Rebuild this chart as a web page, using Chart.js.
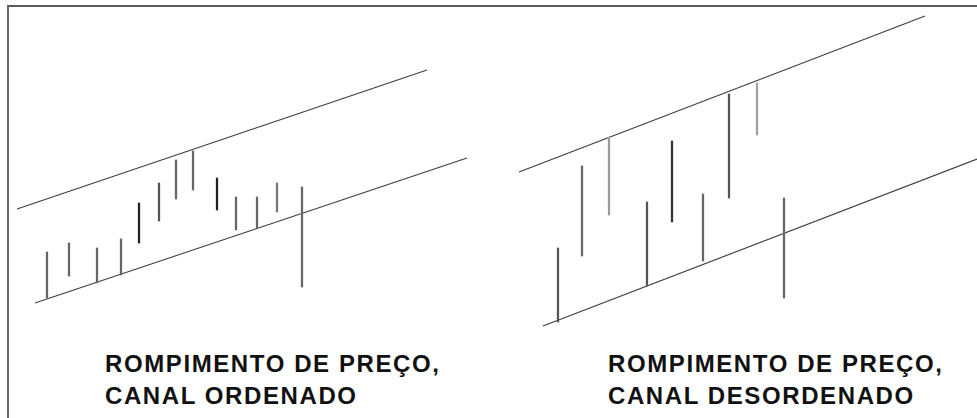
<!DOCTYPE html>
<html>
<head>
<meta charset="utf-8">
<script src="https://cdn.jsdelivr.net/npm/chart.js@4/dist/chart.umd.min.js"></script>
<style>
  body { margin: 0; background: #fff; width: 977px; height: 418px; overflow: hidden; position: relative; }
  #frame { position: absolute; left: 7px; top: 5px; width: 980px; height: 420px;
           border-top: 2px solid #5a5a5a; border-left: 2px solid #6a6a6a; }
  canvas { position: absolute; }
  #leftChart { left: 10px; top: 8px; }
  #rightChart { left: 490px; top: 8px; }
  .caption { position: absolute; top: 348px; font-family: "Liberation Sans", Arial, sans-serif;
             font-weight: bold; font-size: 24px; line-height: 32px; letter-spacing: 1.6px;
             color: #111; white-space: nowrap; }
  #leftCaption { left: 105px; }
  #rightCaption { left: 608px; }
</style>
</head>
<body>
<div id="frame"></div>
<canvas id="leftChart" width="480" height="330"></canvas>
<canvas id="rightChart" width="487" height="330"></canvas>
<div class="caption" id="leftCaption">ROMPIMENTO DE PREÇO,<br>CANAL ORDENADO</div>
<div class="caption" id="rightCaption">ROMPIMENTO DE PREÇO,<br>CANAL DESORDENADO</div>
<script>
// canal ordenado (esquerda)
const leftBarX    = [3.7, 5.9, 8.7, 11.1, 12.9, 14.9, 16.6, 18.3, 20.7, 22.6, 24.7, 26.7, 29.2];
const leftBarLow  = [4.0, 6.2, 5.5, 6.3, 9.5, 11.7, 13.9, 14.8, 12.8, 10.8, 11.0, 12.6, 5.1];
const leftBarHigh = [8.6, 9.5, 9.0, 9.9, 13.5, 15.5, 17.8, 18.7, 16.0, 14.1, 14.1, 15.5, 15.1];
const leftUpperX  = [0.7, 41.7];
const leftUpperY  = [12.9, 26.8];
const leftLowerX  = [2.5, 45.7];
const leftLowerY  = [3.5, 18.0];

// canal desordenado (direita)
const rightBarX    = [6.8, 9.2, 11.9, 15.7, 18.2, 21.3, 23.9, 26.7, 29.4];
const rightBarLow  = [1.6, 8.2, 12.3, 5.2, 11.6, 7.7, 14.0, 20.3, 4.0];
const rightBarHigh = [9.0, 17.2, 20.1, 13.6, 19.7, 14.4, 24.4, 25.5, 14.0];
const rightUpperX  = [2.9, 43.5];
const rightUpperY  = [16.6, 32.2];
const rightLowerX  = [5.3, 48.7];
const rightLowerY  = [1.2, 17.9];

// tons das barras (so estilo)
const leftShade  = ['#666', '#666', '#666', '#666', '#222', '#555', '#666', '#666', '#222', '#666', '#666', '#777', '#666'];
const rightShade = ['#555', '#666', '#9a9a9a', '#555', '#333', '#666', '#555', '#a0a0a0', '#666'];

function points(xs, ys) {
    return xs.map((x, i) => ({ x: x, y: ys[i] }));
}

function renderPanel(id, barX, low, high, upX, upY, loX, loY, shade, xMax) {
    const ctx = document.getElementById(id).getContext('2d');
    const lineStyle = { type: 'line', borderColor: '#404040', borderWidth: 1.2, pointRadius: 0, fill: false };
    return new Chart(ctx, {
        type: 'bar',
        data: {
            datasets: [
                {
                    data: barX.map((x, i) => ({ x: x, y: [low[i], high[i]] })),
                    backgroundColor: shade,
                    barThickness: 1.6,
                    borderWidth: 0
                },
                Object.assign({ data: points(upX, upY) }, lineStyle),
                Object.assign({ data: points(loX, loY) }, lineStyle)
            ]
        },
        options: {
            responsive: false,
            animation: false,
            layout: { padding: 0 },
            plugins: { legend: { display: false }, tooltip: { enabled: false } },
            scales: {
                x: { type: 'linear', min: 0, max: xMax, offset: false, display: false },
                y: { min: 0, max: 33, display: false }
            }
        }
    });
}

renderPanel('leftChart', leftBarX, leftBarLow, leftBarHigh, leftUpperX, leftUpperY, leftLowerX, leftLowerY, leftShade, 48);
renderPanel('rightChart', rightBarX, rightBarLow, rightBarHigh, rightUpperX, rightUpperY, rightLowerX, rightLowerY, rightShade, 48.7);
</script>
</body>
</html>
